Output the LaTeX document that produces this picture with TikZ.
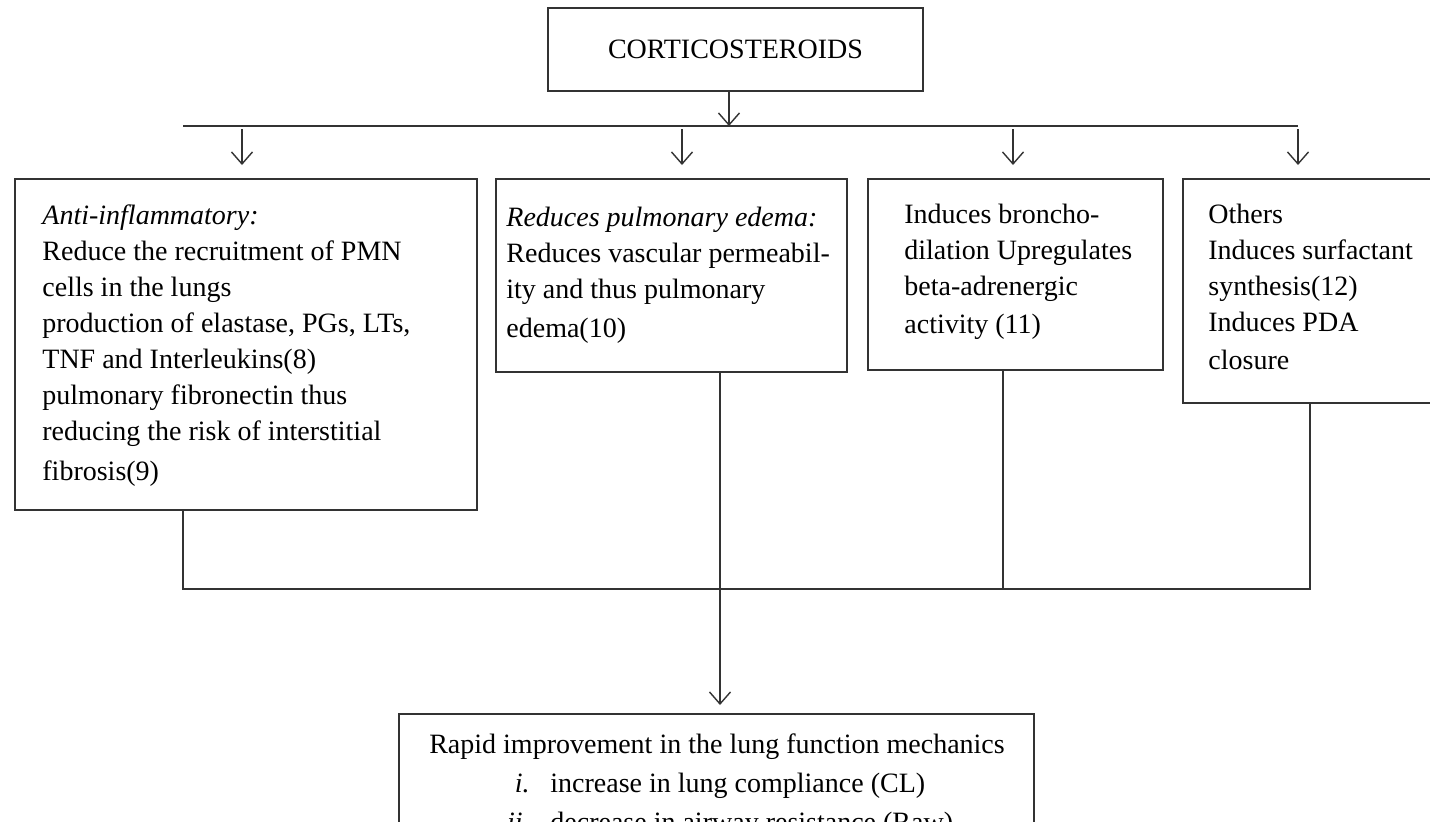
\documentclass[tikz,border=0pt]{standalone}
\usepackage{fontspec}
\setmainfont{Liberation Serif}
\usetikzlibrary{arrows.meta,calc}
\begin{document}
\begin{tikzpicture}[x=0.5pt,y=-0.5pt,
  box/.style={draw=black!80,line width=1pt,inner sep=0pt},
  txt/.style={anchor=north west,align=left,inner sep=0pt,font=\fontsize{14}{18}\selectfont},
  ltxt/.style={inner sep=0pt,font=\fontsize{14}{18}\selectfont},
  conn/.style={draw=black!80,line width=1pt},
  arr/.style={draw=black!80,line width=0.7pt,-{Straight Barb[length=6pt,width=10.5pt,line width=0.7pt]}}]
\useasboundingbox (0,0) rectangle (1430,821);
\clip (0,0) rectangle (1430,821);

% top box
\node[box,ltxt,minimum width=375*0.5pt,minimum height=83*0.5pt,anchor=north west] (top) at (547,7) {CORTICOSTEROIDS};

% branch boxes
\node[box,minimum width=462*0.5pt,minimum height=331*0.5pt,anchor=north west] (b1) at (14,178) {};
\node[box,minimum width=351*0.5pt,minimum height=193*0.5pt,anchor=north west] (b2) at (495,178) {};
\node[box,minimum width=295*0.5pt,minimum height=191*0.5pt,anchor=north west] (b3) at (867,178) {};
\node[box,minimum width=270*0.5pt,minimum height=224*0.5pt,anchor=north west] (b4) at (1182,178) {};

% texts
\node[txt] (t1) at (42,198.8) {\strut\textit{Anti-inflammatory:}\\
Reduce the recruitment of PMN\\
cells in the lungs\\
production of elastase, PGs, LTs,\\
TNF and Interleukins(8)\\
pulmonary fibronectin thus\\
reducing the risk of interstitial\\[2pt]
fibrosis(9)};
\node[txt] (t2) at (506,200.8) {\strut\textit{Reduces pulmonary edema:}\\
Reduces vascular permeabil-\\
ity and thus pulmonary\\[1.5pt]
edema(10)};
\node[txt] (t3) at (904,198) {\strut Induces broncho-\\
dilation Upregulates\\
beta-adrenergic\\[1pt]
activity (11)};
\node[txt] (t4) at (1208,198) {\strut Others\\
Induces surfactant\\
synthesis(12)\\
Induces PDA\\[1pt]
closure};

% bottom box
\node[box,minimum width=635*0.5pt,minimum height=200*0.5pt,anchor=north west] (bot) at (398,713) {};
\node[ltxt,anchor=base] (r1) at (717,753) {Rapid improvement in the lung function mechanics};
\node[ltxt,anchor=base east] (l2) at (530,792) {\textit{i.}};
\node[ltxt,anchor=base west] (r2) at (550,792) {increase in lung compliance (CL)};
\node[ltxt,anchor=base east] (l3) at (530,831) {\textit{ii.}};
\node[ltxt,anchor=base west] (r3) at (550,831) {decrease in airway resistance (Raw)};

% bus at top
\coordinate (busL) at (183,126);
\coordinate (busR) at (1298,126);
\draw[conn] (busL) -- (busR);
\draw[arr] (top.south -| 729,0) -- (729,126);
\foreach \n/\x in {b1/242,b2/682,b3/1013,b4/1298}{
  \draw[arr] (\x,129) -- ($(\n.north -| \x,0)+(0,-13)$);
}

% merge at bottom
\coordinate (m1) at (183,589);
\coordinate (m4) at (1310,589);
\draw[conn] (b1.south -| m1) -- (m1) -- (m4) -- (b4.south -| m4);
\draw[conn] (b3.south -| 1003,0) -- (1003,589);
\draw[arr] (b2.south -| 720,0) -- ($(bot.north -| 720,0)+(0,-8)$);
\end{tikzpicture}
\end{document}
